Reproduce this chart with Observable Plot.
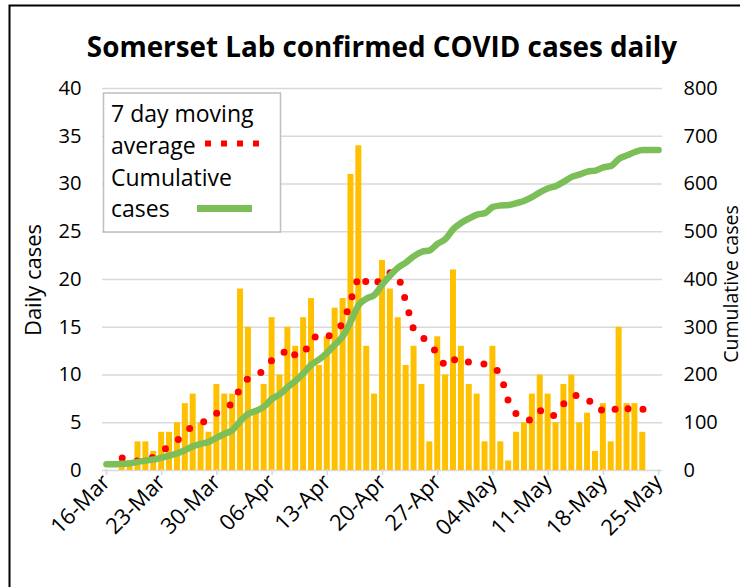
<!DOCTYPE html>
<html><head><meta charset="utf-8">
<script src="https://cdn.jsdelivr.net/npm/d3@7"></script>
<script src="https://cdn.jsdelivr.net/npm/@observablehq/plot@0.6"></script>
<style>
html,body{margin:0;padding:0;background:#fff;}
#chart{width:740px;height:587px;overflow:hidden;}
</style></head><body><div id="chart"></div>
<script>
// ---- data ----
const titleText = "Somerset Lab confirmed COVID cases daily";
const firstDay = "2020-03-16";
const lastDayExclusive = "2020-05-26";
// one value per day, 16-Mar .. 25-May
const dailyCases = [0,0,1,1,3,3,2,4,4,5, 7,8,5,4,9,8,8,19,15,6, 9,16,10,15,13,16,18,11,14,17,
  18,31,34,13,8,22,19,16,11,13, 9,3,14,10,21,13,9,8,3,13, 3,1,4,5,8,10,8,5,9,10,
  5,6,2,7,3,15,7,7,4,0, 0];
const movingAverage = [null,null,1.3,0.9,1.0,1.1,1.43,2.0,2.57,3.14, 4.0,4.71,5.0,5.29,6.0,6.57,7.0,8.71,9.71,9.86,
  10.57,11.57,11.86,12.86,12.0,12.14,13.86,14.14,13.86,14.86, 15.29,17.86,20.43,19.71,19.29,20.43,20.71,20.43,17.57,14.57,
  14.0,13.29,12.14,10.86,11.57,11.86,11.29,11.14,11.14,11.0, 10.0,7.14,5.86,5.29,5.29,6.29,5.57,5.86,7.0,7.86,
  7.86,7.57,6.43,6.29,6.0,6.86,6.43,6.71,6.43,6.14, null];
const cumulativeCases = [13,13,14,15,18,21,23,27,31,36, 43,51,56,60,69,77,85,104,119,125,
  134,150,160,175,188,204,222,233,247,264, 282,313,347,360,368,390,409,425,436,449,
  458,461,475,485,506,519,528,536,539,552, 555,556,560,565,573,583,591,596,605,615,
  620,626,628,635,638,653,660,667,671,671, 671];
const xTickLabels = ["16-Mar","23-Mar","30-Mar","06-Apr","13-Apr","20-Apr","27-Apr","04-May","11-May","18-May","25-May"];
const dailyTicks = [0,5,10,15,20,25,30,35,40];
const cumulativeTicks = [0,100,200,300,400,500,600,700,800];
const leftLabel = "Daily cases";
const rightLabel = "Cumulative cases";
const legendLabels = [["7 day moving","average"],["Cumulative","cases"]];

// ---- build table ----
const parseDay = d3.utcParse("%Y-%m-%d");
const d0 = parseDay(firstDay), dEnd = parseDay(lastDayExclusive);
const ratio = cumulativeTicks[cumulativeTicks.length-1] / dailyTicks[dailyTicks.length-1];
const rows = dailyCases.map((v, i) => {
  const date = d3.utcDay.offset(d0, i);
  return {date, next: d3.utcDay.offset(date, 1), mid: d3.utcHour.offset(date, 12),
    daily: v, ma: movingAverage[i], cum: cumulativeCases[i] / ratio};
});
const parseTick = d3.utcParse("%d-%b-%Y");
const tickDates = xTickLabels.map(s => parseTick(s + "-2020"));

const RED = "#ff0000", GREEN = "#7cbf59", GOLD = "#ffc000", GRID = "#d9d9d9";
const FONT = "'Open Sans', 'Noto Sans', sans-serif";

const chart = Plot.plot({
  width: 740, height: 587,
  marginLeft: 102, marginRight: 78, marginTop: 88, marginBottom: 117,
  style: {fontFamily: FONT, background: "white", color: "#000", overflow: "visible"},
  x: {type: "utc", domain: [d0, dEnd]},
  y: {domain: [0, 40]},
  marks: [
    Plot.ruleY(dailyTicks, {stroke: GRID, strokeWidth: 1.6}),
    Plot.rectY(rows, {x1: "next", x2: "date", y: "daily", fill: GOLD, insetLeft: 0.95, insetRight: 0.95}),
    Plot.line(rows.filter(d => d.ma != null), {x: "mid", y: "ma", stroke: RED, strokeWidth: 7,
      strokeDasharray: "0 15.8", strokeLinecap: "round", strokeLinejoin: "round"}),
    Plot.line(rows, {x: "mid", y: "cum", stroke: GREEN, strokeWidth: 6.5, curve: "monotone-x", strokeLinecap: "round"}),
    Plot.axisX({ticks: tickDates, tickFormat: d3.utcFormat("%d-%b"), tickRotate: -45, tickSize: 6,
      stroke: GRID, strokeWidth: 1.6, tickPadding: 3, dx: 4, dy: -1, fontSize: 22, label: null}),
    Plot.axisY({anchor: "left", ticks: dailyTicks, tickSize: 0, tickPadding: 21, fontSize: 20.2, label: null}),
    Plot.axisY({anchor: "right", ticks: dailyTicks, tickFormat: (d, i) => cumulativeTicks[i],
      tickSize: 0, tickPadding: 21, fontSize: 20, label: null})
  ]
});
document.getElementById("chart").appendChild(chart);

// ---- decorations: border, title, axis titles, legend ----
const svg = d3.select(chart);
svg.append("rect").attr("x", 9.5).attr("y", 5.5).attr("width", 800).attr("height", 700)
  .attr("fill", "none").attr("stroke", "#000").attr("stroke-width", 2);
svg.append("text").text(titleText).attr("x", 382).attr("y", 57).attr("text-anchor", "middle")
  .attr("font-family", FONT).attr("font-weight", 700).attr("font-size", 27.8).attr("fill", "#000");
svg.append("text").text(leftLabel).attr("transform", "translate(41,280) rotate(-90)")
  .attr("text-anchor", "middle")
  .attr("font-family", FONT).attr("font-size", 22).attr("fill", "#000");
svg.append("text").text(rightLabel).attr("transform", "translate(737.5,284) rotate(-90)")
  .attr("text-anchor", "middle")
  .attr("font-family", FONT).attr("font-size", 19.5).attr("fill", "#000");

const lg = svg.append("g");
lg.append("rect").attr("x", 103.5).attr("y", 93).attr("width", 177).attr("height", 139)
  .attr("fill", "white").attr("stroke", "#bfbfbf").attr("stroke-width", 1.5);
const lineYs = [[122, 154], [186, 217]];
legendLabels.forEach((lines, k) => lines.forEach((t, j) => {
  lg.append("text").text(t).attr("x", 111).attr("y", lineYs[k][j]).attr("text-anchor", "start")
    .attr("font-family", FONT).attr("font-size", 23).attr("fill", "#000");
}));
lg.append("line").attr("x1", 205).attr("x2", 262).attr("y1", 143.5).attr("y2", 143.5)
  .attr("stroke", RED).attr("stroke-width", 6).attr("stroke-dasharray", "6 10");
lg.append("line").attr("x1", 197).attr("x2", 252).attr("y1", 208.5).attr("y2", 208.5)
  .attr("stroke", GREEN).attr("stroke-width", 7);
</script>
</body></html>
